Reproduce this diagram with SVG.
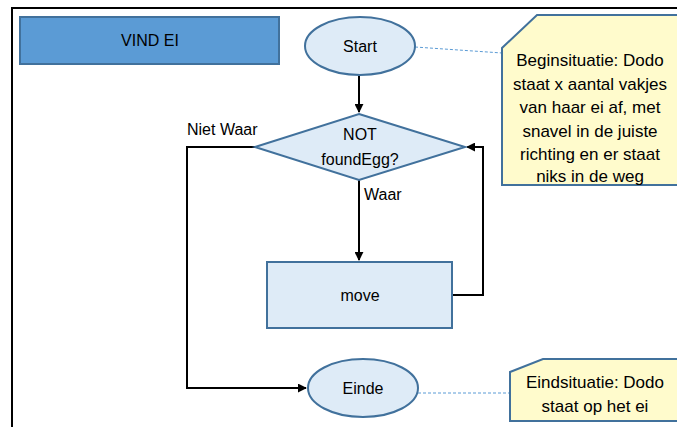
<svg xmlns="http://www.w3.org/2000/svg" width="677" height="427" viewBox="0 0 677 427">
<style>
text{font-family:"Liberation Sans",Arial,sans-serif;font-size:16px;fill:#000}
.c{text-anchor:middle}
.n{font-size:17px}
.shape{fill:#DEEBF7;stroke:#41719C;stroke-width:2}
.note{fill:#FFFBCC;stroke:#41719C;stroke-width:2}
.conn{fill:none;stroke:#000;stroke-width:2}
.dot{fill:none;stroke:#5B9BD5;stroke-width:1;stroke-dasharray:3 2}
</style>
<defs>
<marker id="ah" viewBox="0 0 10 10" refX="9" refY="5" markerWidth="4.5" markerHeight="4.5" orient="auto" markerUnits="strokeWidth">
<path d="M0,0 L10,5 L0,10 z" fill="#000"/>
</marker>
</defs>
<rect width="677" height="427" fill="#fff"/>
<path d="M12,427 V8 H677" fill="none" stroke="#000" stroke-width="2"/>
<g id="title">
<rect x="20" y="17" width="259" height="47" fill="#5B9BD5" stroke="#41719C" stroke-width="2"/>
<text class="c" x="150" y="46">VIND EI</text>
</g>
<g id="connectors">
<path class="conn" d="M359,76 V112" marker-end="url(#ah)"/>
<path class="conn" d="M359,180 V260" marker-end="url(#ah)"/>
<path class="conn" d="M452,295 H483 V147 H467" marker-end="url(#ah)"/>
<path class="conn" d="M255,147 H187 V388 H306" marker-end="url(#ah)"/>
<path class="dot" d="M415,47 L502,53"/>
<path class="dot" d="M418,393 H510"/>
<text x="187" y="135">Niet Waar</text>
<text x="364" y="200">Waar</text>
</g>
<g id="start">
<ellipse class="shape" cx="360" cy="46" rx="55" ry="29"/>
<text class="c" x="360" y="52">Start</text>
</g>
<g id="decision">
<polygon class="shape" points="359,114 465,147 359,180 255,147"/>
<text class="c" x="360" y="140">NOT</text>
<text class="c" x="360" y="165">foundEgg?</text>
</g>
<g id="move">
<rect class="shape" x="267" y="262" width="185" height="66"/>
<text class="c" x="360" y="301">move</text>
</g>
<g id="einde">
<ellipse class="shape" cx="363" cy="388" rx="55" ry="29"/>
<text class="c" x="363" y="394">Einde</text>
</g>
<g id="note-begin">
<polygon class="note" points="537,15 680,15 680,185 502,185 502,48"/>
<text class="c n" x="590" y="66">Beginsituatie: Dodo</text>
<text class="c n" x="590" y="90">staat x aantal vakjes</text>
<text class="c n" x="590" y="113">van haar ei af, met</text>
<text class="c n" x="590" y="137">snavel in de juiste</text>
<text class="c n" x="590" y="160">richting en er staat</text>
<text class="c n" x="590" y="182">niks in de weg</text>
</g>
<g id="note-end">
<polygon class="note" points="543,359 680,359 680,421 510,421 510,372"/>
<text class="c n" x="595" y="388">Eindsituatie: Dodo</text>
<text class="c n" x="595" y="412">staat op het ei</text>
</g>
</svg>
